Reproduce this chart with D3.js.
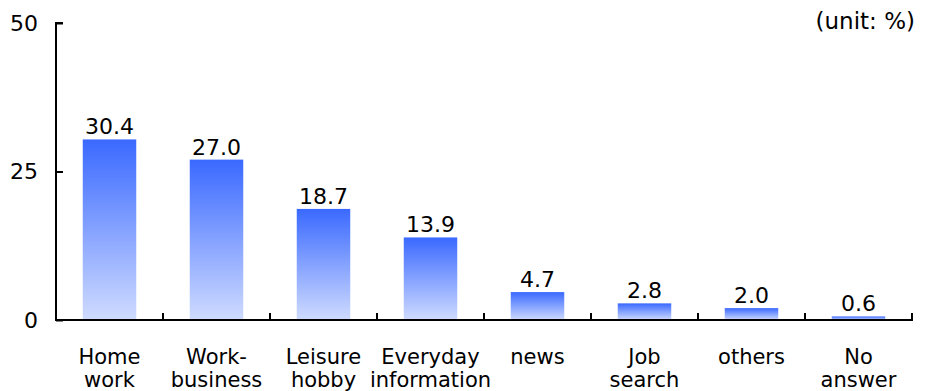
<!DOCTYPE html>
<html>
<head>
<meta charset="utf-8">
<script src="https://cdn.jsdelivr.net/npm/d3@7/dist/d3.min.js"></script>
<style>
  html, body { margin: 0; padding: 0; background: #fff; }
  svg { display: block; font-family: "DejaVu Sans", Verdana, sans-serif; }
</style>
</head>
<body>
<svg id="chart" width="930" height="391"></svg>
<script>
// Purposes of use, with share of respondents (%)
const categories = [
  ["Home", "work"],
  ["Work-", "business"],
  ["Leisure", "hobby"],
  ["Everyday", "information"],
  ["news"],
  ["Job", "search"],
  ["others"],
  ["No", "answer"]
];
const values = [30.4, 27.0, 18.7, 13.9, 4.7, 2.8, 2.0, 0.6];
const yTicks = [0, 25, 50];
const unitLabel = "(unit: %)";

const svg = d3.select("#chart");
const plot = { left: 56, right: 912, top: 23, bottom: 320 };

const x = d3.scaleBand()
  .domain(d3.range(categories.length))
  .range([plot.left, plot.right])
  .paddingInner(0.5)
  .paddingOuter(0.25);

const y = d3.scaleLinear().domain([0, 50]).range([plot.bottom, plot.top]);

// vertical gradient applied to each bar individually
const defs = svg.append("defs");
const grad = defs.append("linearGradient")
  .attr("id", "barGrad")
  .attr("x1", 0).attr("y1", 0).attr("x2", 0).attr("y2", 1);
grad.append("stop").attr("offset", "0%").attr("stop-color", "#3a69ff");
grad.append("stop").attr("offset", "100%").attr("stop-color", "#cfdbff");

// bars
svg.append("g")
  .selectAll("rect")
  .data(values)
  .join("rect")
  .attr("x", (d, i) => x(i))
  .attr("y", d => y(d))
  .attr("width", x.bandwidth())
  .attr("height", d => y(0) - y(d))
  .attr("fill", "url(#barGrad)");

// value labels
svg.append("g")
  .selectAll("text")
  .data(values)
  .join("text")
  .attr("x", (d, i) => x(i) + x.bandwidth() / 2)
  .attr("y", d => y(d) - 5)
  .attr("text-anchor", "middle")
  .attr("font-size", 22)
  .attr("fill", "#000")
  .text(d => d.toFixed(1));

// y axis: ticks pointing inward
const yAxis = svg.append("g")
  .attr("transform", `translate(${plot.left},0)`)
  .call(d3.axisRight(y).tickValues(yTicks).tickSize(7).tickFormat(""));
yAxis.select(".domain").attr("d", `M7,${plot.top}H0V${plot.bottom}`);
yAxis.selectAll("path, line").attr("stroke", "#000").attr("stroke-width", 2);

svg.append("g")
  .selectAll("text")
  .data(yTicks)
  .join("text")
  .attr("x", 38)
  .attr("y", d => y(d))
  .attr("dy", "0.36em")
  .attr("text-anchor", "end")
  .attr("font-size", 22)
  .text(d => d);

// x axis: boundary ticks pointing up
const bounds = d3.range(categories.length + 1).map(i => plot.left + i * x.step());
const xAxis = svg.append("g");
xAxis.append("line")
  .attr("x1", plot.left - 1).attr("x2", plot.right + 1)
  .attr("y1", plot.bottom).attr("y2", plot.bottom)
  .attr("stroke", "#000").attr("stroke-width", 2);
xAxis.selectAll("line.tick")
  .data(bounds.slice(1))
  .join("line")
  .attr("class", "tick")
  .attr("x1", d => d).attr("x2", d => d)
  .attr("y1", plot.bottom).attr("y2", plot.bottom - 7)
  .attr("stroke", "#000").attr("stroke-width", 2);

// category labels (two lines)
const labels = svg.append("g")
  .selectAll("text")
  .data(categories)
  .join("text")
  .attr("x", (d, i) => x(i) + x.bandwidth() / 2)
  .attr("y", 364)
  .attr("text-anchor", "middle")
  .attr("font-size", 21)
  .attr("fill", "#000");
labels.selectAll("tspan")
  .data(d => d)
  .join("tspan")
  .attr("x", function () { return this.parentNode.getAttribute("x"); })
  .attr("dy", (d, j) => j === 0 ? 0 : 23)
  .text(d => d);

// unit note
svg.append("text")
  .attr("x", 915)
  .attr("y", 29)
  .attr("text-anchor", "end")
  .attr("font-size", 23)
  .text(unitLabel);
</script>
</body>
</html>
